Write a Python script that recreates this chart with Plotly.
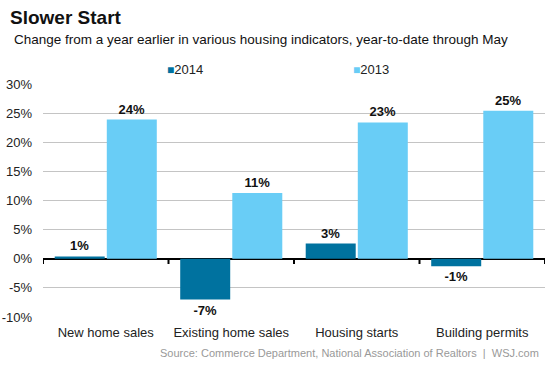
import plotly.graph_objects as go

categories = ["New home sales", "Existing home sales", "Housing starts", "Building permits"]
values_2014 = [0.4, -7.0, 2.6, -1.3]
values_2013 = [23.9, 11.3, 23.4, 25.4]
labels_2014 = ["1%", "-7%", "3%", "-1%"]
labels_2013 = ["24%", "11%", "23%", "25%"]
series_names = ["2014", "2013"]
y_ticks = [-10, -5, 0, 5, 10, 15, 20, 25, 30]

C2014 = "#00729f"
C2013 = "#69cdf6"
FONT = "Liberation Sans, Arial, sans-serif"
H = 369
W = 553
ML, MR, MT, MB = 43, 8, 84, 52
PW, PH = W - ML - MR, H - MT - MB


def px_x(x):
    return (x - ML) / PW


def px_y(y):
    return (H - MB - y) / PH


fig = go.Figure()
fig.add_trace(go.Bar(
    x=categories, y=values_2014, name=series_names[0], marker_color=C2014,
    text=labels_2014, textposition="outside", cliponaxis=False,
    textfont=dict(family=FONT, size=13, color="#111"),
))
fig.add_trace(go.Bar(
    x=categories, y=values_2013, name=series_names[1], marker_color=C2013,
    text=labels_2013, textposition="outside", cliponaxis=False,
    textfont=dict(family=FONT, size=13, color="#111"),
))
fig.update_traces(texttemplate="<b>%{text}</b>")

# small tick marks on the zero line at category boundaries
for i in range(len(categories) + 1):
    fig.add_shape(type="line", xref="x", yref="y", x0=i - 0.5, x1=i - 0.5, y0=0, y1=-0.9,
                  line=dict(color="#000", width=2), layer="above")

fig.update_layout(
    template="none",
    width=W, height=H,
    margin=dict(l=ML, r=MR, t=MT, b=MB, autoexpand=False),
    paper_bgcolor="white", plot_bgcolor="white",
    font=dict(family=FONT, size=13, color="#222"),
    barmode="group", bargap=0.17, bargroupgap=0.04,
    showlegend=False,
    xaxis=dict(
        type="category", range=[-0.5, 3.5], automargin=False,
        showline=False, ticks="", showgrid=False, ticklabelstandoff=6,
        tickfont=dict(size=13, color="#222"),
    ),
    yaxis=dict(
        range=[-10, 30], tickvals=y_ticks, ticktext=[f"{v}%" for v in y_ticks],
        automargin=False, ticklabelstandoff=10,
        showgrid=True, gridcolor="#c4c4c4", gridwidth=1,
        zeroline=True, zerolinecolor="#000", zerolinewidth=2,
        tickfont=dict(size=13, color="#222"), ticks="", showline=False,
    ),
    title=dict(text="<b>Slower Start</b>", x=10 / W, xref="container", xanchor="left",
               y=1 - 17 / H, yref="container", yanchor="middle", pad=dict(l=0, r=0, t=0, b=0),
               font=dict(size=19, color="#111")),
)

# legend drawn as text entries with coloured squares
for name, color, xpos in zip(series_names, [C2014, C2013], [165, 351]):
    fig.add_annotation(
        text=f"<span style='color:{color};font-size:12px'>■</span>{name}",
        xref="paper", yref="paper", x=px_x(xpos), y=px_y(69),
        xanchor="left", yanchor="middle", showarrow=False,
        font=dict(size=13, color="#222"),
    )

fig.add_annotation(text="Change from a year earlier in various housing indicators, year-to-date through May",
                   xref="paper", yref="paper", x=px_x(12), y=px_y(40), xanchor="left",
                   yanchor="middle", showarrow=False, font=dict(size=13.5, color="#111"))
fig.add_annotation(text="Source: Commerce Department, National Association of Realtors  |  WSJ.com",
                   xref="paper", yref="paper", x=px_x(541), y=px_y(353), xanchor="right",
                   yanchor="middle", showarrow=False, font=dict(size=11, color="#999"))

fig.write_html("out.html", config={"displayModeBar": False},
               post_script="document.body.style.margin='0';document.body.style.padding='0';")
